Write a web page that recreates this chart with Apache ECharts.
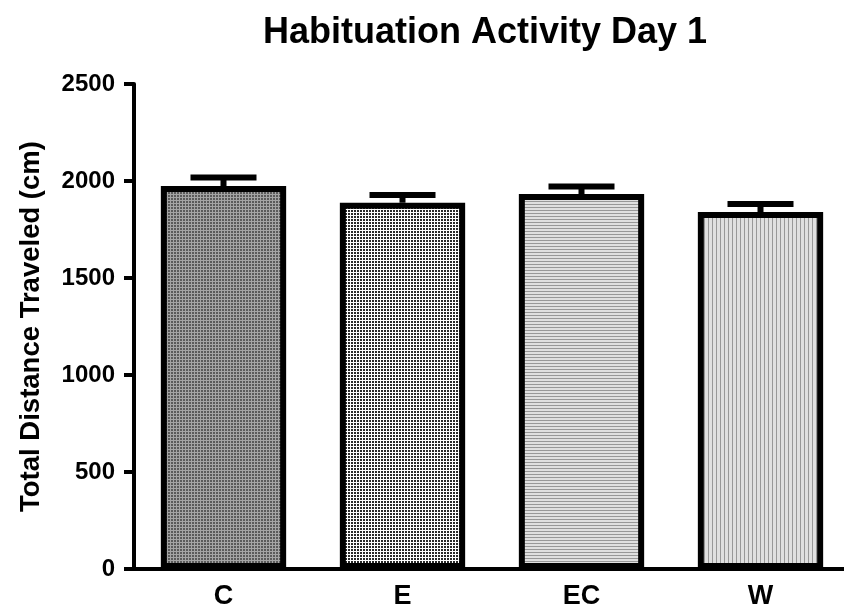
<!DOCTYPE html>
<html>
<head>
<meta charset="utf-8">
<script src="https://cdn.jsdelivr.net/npm/echarts@6/dist/echarts.min.js"></script>
<style>
  html, body { margin: 0; padding: 0; background: #fff; }
  #chart { width: 844px; height: 611px; }
</style>
</head>
<body>
<div id="chart"></div>
<script>
// Group labels, mean distance and SEM per group
const groups = ['C', 'E', 'EC', 'W'];
const meanDistance = [1974, 1888, 1933, 1840];
const semDistance = [44, 40, 39, 41];
const yTicks = [0, 500, 1000, 1500, 2000, 2500];

// Small tiled canvases used as bar fill patterns
function makePattern(w, h, draw) {
  const c = document.createElement('canvas');
  c.width = w; c.height = h;
  const ctx = c.getContext('2d');
  draw(ctx, w, h);
  return { image: c, repeat: 'repeat' };
}

const patterns = [
  // dense dark stipple
  makePattern(3, 3, (ctx) => {
    ctx.fillStyle = '#a4a4a4'; ctx.fillRect(0, 0, 3, 3);
    ctx.fillStyle = '#5a5a5a'; ctx.fillRect(0, 0, 2, 2);
  }),
  // black dots on white grid
  makePattern(3, 3, (ctx) => {
    ctx.fillStyle = '#ffffff'; ctx.fillRect(0, 0, 3, 3);
    ctx.fillStyle = '#2a2a2a'; ctx.fillRect(0, 0, 2, 2);
  }),
  // horizontal lines
  makePattern(4, 3, (ctx) => {
    ctx.fillStyle = '#e0e0e0'; ctx.fillRect(0, 0, 4, 3);
    ctx.fillStyle = '#989898'; ctx.fillRect(0, 0, 4, 1);
  }),
  // vertical lines
  makePattern(4, 4, (ctx) => {
    ctx.fillStyle = '#e0e0e0'; ctx.fillRect(0, 0, 4, 4);
    ctx.fillStyle = '#989898'; ctx.fillRect(0, 0, 1, 4);
  })
];

const chart = echarts.init(document.getElementById('chart'), null, { renderer: 'canvas' });

const font = 'Liberation Sans, Arial, Helvetica, sans-serif';

chart.setOption({
  animation: false,
  backgroundColor: '#ffffff',
  title: {
    text: 'Habituation Activity Day 1',
    left: 480,
    top: 10,
    textAlign: 'center',
    textStyle: { fontFamily: font, fontWeight: 'bold', fontSize: 36, color: '#000' }
  },
  grid: { left: 134, top: 84, bottom: 42, width: 716, outerBoundsMode: 'none', containLabel: false },
  xAxis: {
    type: 'category',
    data: groups,
    axisLine: { lineStyle: { color: '#000', width: 4 } },
    axisTick: { alignWithLabel: true, length: 10, lineStyle: { color: '#000', width: 4 } },
    axisLabel: { fontFamily: font, fontWeight: 'bold', fontSize: 27, color: '#000', margin: 14 }
  },
  yAxis: {
    type: 'value',
    min: yTicks[0],
    max: yTicks[yTicks.length - 1],
    interval: 500,
    name: 'Total Distance Traveled (cm)',
    nameLocation: 'middle',
    nameGap: 89,
    nameTextStyle: { fontFamily: font, fontWeight: 'bold', fontSize: 27.5, color: '#000' },
    axisLine: { show: true, lineStyle: { color: '#000', width: 4 } },
    axisTick: { show: true, length: 10, lineStyle: { color: '#000', width: 4 } },
    axisLabel: {
      fontFamily: font, fontWeight: 'bold', fontSize: 24, color: '#000', margin: 19,
      formatter: (v) => String(v)
    },
    splitLine: { show: false }
  },
  series: [
    {
      type: 'bar',
      barWidth: '70%',
      data: meanDistance.map((v, i) => ({
        value: v,
        itemStyle: { color: patterns[i], borderColor: '#000', borderWidth: 6 }
      })),
      z: 2
    },
    {
      // upper error bar: stem from bar top to mean + SEM, with a cap
      type: 'custom',
      z: 1,
      data: meanDistance.map((v, i) => [i, v, v + semDistance[i]]),
      renderItem: (params, api) => {
        const base = api.coord([api.value(0), api.value(1)]);
        const top = api.coord([api.value(0), api.value(2)]);
        const capHalf = 33;
        return {
          type: 'group',
          children: [
            { type: 'line', shape: { x1: base[0], y1: base[1], x2: top[0], y2: top[1] },
              style: { stroke: '#000', lineWidth: 6 } },
            { type: 'line', shape: { x1: top[0] - capHalf, y1: top[1], x2: top[0] + capHalf, y2: top[1] },
              style: { stroke: '#000', lineWidth: 6 } }
          ]
        };
      }
    }
  ]
});
</script>
</body>
</html>
